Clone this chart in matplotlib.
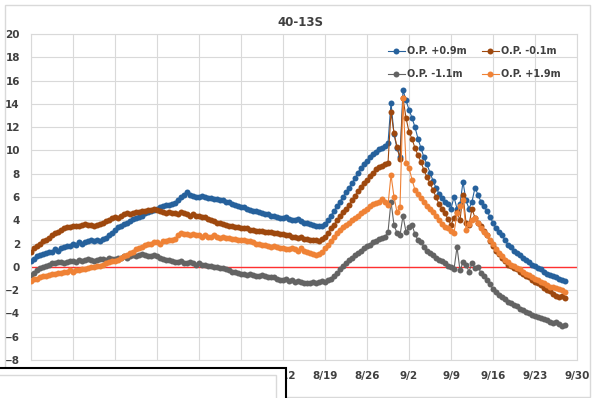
#
# 40-13S 水位の時系列グラフ
#
import matplotlib
matplotlib.use('Agg')
import matplotlib.pyplot as plt
from matplotlib.patches import Rectangle
import pandas as pd

title = '40-13S'
labels = ['O.P. +0.9m', 'O.P. -0.1m', 'O.P. -1.1m', 'O.P. +1.9m']
colors = ['#26619C', '#9E480E', '#636363', '#EF8236']

# 12時間ごと (7/1 0:00 から)
times = pd.date_range('2019-07-01', periods=179, freq='12h')

op_p09 = [
    0.5, 0.7, 0.9, 1.0, 1.1, 1.2, 1.3, 1.3, 1.5, 1.4,
    1.6, 1.7, 1.8, 1.8, 2.0, 1.9, 2.1, 2.0, 2.1, 2.2,
    2.3, 2.2, 2.3, 2.2, 2.4, 2.5, 2.7, 2.9, 3.2, 3.4,
    3.5, 3.7, 3.8, 3.9, 4.1, 4.2, 4.3, 4.4, 4.6, 4.7,
    4.8, 4.9, 5.0, 5.1, 5.2, 5.3, 5.3, 5.4, 5.5, 5.7,
    6.0, 6.2, 6.4, 6.2, 6.1, 6.0, 6.0, 6.1, 6.0, 5.9,
    5.9, 5.8, 5.8, 5.7, 5.7, 5.6, 5.6, 5.4, 5.3, 5.2,
    5.1, 5.1, 5.0, 4.9, 4.8, 4.8, 4.7, 4.6, 4.5, 4.5,
    4.4, 4.4, 4.3, 4.2, 4.2, 4.3, 4.1, 4.0, 4.0, 4.1,
    3.9, 3.8, 3.8, 3.7, 3.6, 3.5, 3.5, 3.5, 3.7, 4.0,
    4.4, 4.8, 5.2, 5.6, 6.0, 6.4, 6.8, 7.2, 7.6, 8.1,
    8.5, 8.8, 9.1, 9.4, 9.7, 9.9, 10.1, 10.2, 10.4, 10.6,
    14.1, 11.4, 10.2, 9.4, 15.2, 14.3, 13.5, 12.8, 12.0, 11.0,
    10.2, 9.4, 8.8, 8.1, 7.4, 6.8, 6.3, 5.9, 5.6, 5.4,
    5.0, 6.0, 5.0, 5.4, 7.3, 5.7, 5.0, 5.6, 6.8, 6.2,
    5.6, 5.2, 4.8, 4.3, 3.8, 3.3, 3.0, 2.7, 2.3, 1.9,
    1.7, 1.4, 1.2, 1.0, 0.8, 0.6, 0.4, 0.2, 0.1, -0.1,
    -0.2, -0.4, -0.6, -0.7, -0.8, -0.9, -1.0, -1.1, -1.2,
]
op_m01 = [
    1.3, 1.6, 1.8, 2.0, 2.2, 2.3, 2.5, 2.7, 2.9, 3.0,
    3.2, 3.3, 3.4, 3.4, 3.5, 3.5, 3.5, 3.6, 3.7, 3.6,
    3.6, 3.5, 3.6, 3.7, 3.8, 3.9, 4.0, 4.2, 4.3, 4.2,
    4.4, 4.5, 4.6, 4.5, 4.6, 4.7, 4.7, 4.8, 4.8, 4.9,
    4.9, 5.0, 4.9, 4.8, 4.7, 4.6, 4.7, 4.6, 4.6, 4.5,
    4.7, 4.6, 4.5, 4.4, 4.5, 4.4, 4.4, 4.3, 4.3, 4.1,
    4.0, 3.9, 3.8, 3.8, 3.7, 3.6, 3.5, 3.5, 3.4, 3.4,
    3.3, 3.3, 3.3, 3.2, 3.2, 3.1, 3.1, 3.1, 3.0, 3.0,
    3.0, 2.9, 2.9, 2.8, 2.8, 2.7, 2.7, 2.6, 2.6, 2.5,
    2.6, 2.4, 2.4, 2.3, 2.3, 2.3, 2.2, 2.4, 2.6, 2.9,
    3.3, 3.6, 4.0, 4.4, 4.7, 5.0, 5.3, 5.7, 6.1, 6.5,
    6.9, 7.2, 7.5, 7.8, 8.1, 8.4, 8.6, 8.7, 8.8, 8.9,
    13.3, 11.5, 10.3, 9.3, 14.5, 12.8, 11.6, 11.0, 10.2, 9.6,
    9.0, 8.3, 7.7, 7.2, 6.6, 6.0, 5.4, 5.0, 4.6, 4.1,
    3.6, 4.2, 4.7, 4.0, 6.2, 3.8, 3.6, 5.0, 4.2, 3.8,
    3.5, 3.1, 2.7, 2.2, 1.8, 1.4, 1.1, 0.8, 0.5, 0.2,
    0.1, -0.1, -0.2, -0.4, -0.6, -0.8, -0.9, -1.1, -1.3, -1.4,
    -1.6, -1.8, -2.0, -2.1, -2.3, -2.5, -2.6, -2.5, -2.7,
]
op_m11 = [
    -0.7, -0.5, -0.3, -0.1, 0.0, 0.1, 0.2, 0.3, 0.3, 0.4,
    0.4, 0.3, 0.4, 0.5, 0.5, 0.4, 0.6, 0.5, 0.6, 0.7,
    0.6, 0.5, 0.6, 0.7, 0.7, 0.6, 0.8, 0.7, 0.7, 0.8,
    0.8, 0.9, 0.8, 0.9, 1.0, 0.9, 1.0, 1.1, 1.0, 0.9,
    0.9, 1.0, 0.9, 0.8, 0.7, 0.6, 0.6, 0.5, 0.4, 0.4,
    0.5, 0.3, 0.3, 0.4, 0.3, 0.2, 0.3, 0.2, 0.2, 0.1,
    0.1, 0.0, 0.0, -0.1, -0.1, -0.2, -0.3, -0.4, -0.4, -0.5,
    -0.6, -0.6, -0.7, -0.6, -0.7, -0.8, -0.8, -0.7, -0.8, -0.9,
    -0.9, -0.9, -1.0, -1.1, -1.1, -1.0, -1.2, -1.1, -1.3, -1.2,
    -1.3, -1.4, -1.4, -1.4, -1.3, -1.4, -1.3, -1.2, -1.3, -1.1,
    -1.0, -0.8, -0.5, -0.2, 0.1, 0.3, 0.6, 0.8, 1.0, 1.2,
    1.4, 1.6, 1.8, 1.9, 2.1, 2.2, 2.4, 2.5, 2.6, 3.0,
    5.6, 3.6, 2.9, 2.7, 4.4, 3.0, 3.4, 3.6, 2.8, 2.3,
    2.1, 1.7, 1.4, 1.2, 1.0, 0.8, 0.6, 0.5, 0.3, 0.1,
    0.0, -0.2, 1.7, -0.3, 0.4, 0.2, -0.4, 0.3, -0.1, 0.0,
    -0.5, -0.8, -1.1, -1.5, -1.9, -2.2, -2.4, -2.6, -2.8, -3.0,
    -3.1, -3.3, -3.4, -3.6, -3.7, -3.9, -4.0, -4.1, -4.2, -4.3,
    -4.4, -4.5, -4.6, -4.7, -4.8, -4.7, -4.9, -5.1, -5.0,
]
op_p19 = [
    -1.2, -1.0, -1.0, -0.9, -0.8, -0.8, -0.7, -0.6, -0.6, -0.5,
    -0.5, -0.4, -0.4, -0.3, -0.4, -0.3, -0.3, -0.2, -0.2, -0.1,
    0.0, 0.0, 0.1, 0.1, 0.2, 0.3, 0.4, 0.5, 0.5, 0.6,
    0.8, 0.9, 1.0, 1.2, 1.3, 1.5, 1.6, 1.7, 1.9, 2.0,
    2.0, 2.1, 2.1, 2.0, 2.2, 2.2, 2.3, 2.3, 2.4, 2.7,
    2.9, 2.8, 2.8, 2.7, 2.8, 2.7, 2.7, 2.6, 2.7, 2.6,
    2.6, 2.7, 2.6, 2.5, 2.6, 2.5, 2.5, 2.4, 2.4, 2.3,
    2.3, 2.3, 2.2, 2.2, 2.1, 2.0, 2.0, 1.9, 1.9, 1.8,
    1.7, 1.8, 1.7, 1.6, 1.6, 1.5, 1.5, 1.6, 1.5, 1.4,
    1.6, 1.4, 1.3, 1.2, 1.1, 1.0, 1.1, 1.3, 1.6, 1.9,
    2.2, 2.6, 2.9, 3.2, 3.4, 3.6, 3.8, 4.0, 4.2, 4.4,
    4.6, 4.8, 5.0, 5.2, 5.4, 5.5, 5.6, 5.8, 5.6, 5.3,
    7.9, 6.0, 4.7, 5.1, 14.5, 8.9, 8.5, 7.5, 6.6, 6.3,
    5.9, 5.6, 5.2, 5.0, 4.7, 4.4, 4.0, 3.7, 3.4, 3.3,
    3.1, 2.9, 4.6, 5.2, 5.7, 3.2, 3.7, 4.0, 4.2, 3.8,
    3.3, 3.0, 2.7, 2.3, 2.0, 1.5, 1.2, 0.9, 0.6, 0.4,
    0.2, 0.1, -0.1, -0.2, -0.4, -0.6, -0.7, -0.9, -1.0, -1.1,
    -1.3, -1.4, -1.6, -1.7, -1.7, -1.8, -1.9, -2.0, -2.2,
]
series = [op_p09, op_m01, op_m11, op_p19]

xticks = pd.date_range('2019-07-01', '2019-09-30', freq='7D')
xticklabels = [f'{d.month}/{d.day}' for d in xticks]
yticks = list(range(-8, 21, 2))

txt = '#404040'
fig = plt.figure(figsize=(5.97, 3.98), dpi=100)
ax = fig.add_axes([31 / 597, 1 - 360 / 398, 546 / 597, 326 / 398])

ax.axhline(0, color='#FF3030', lw=1.0, zorder=2)
lines = []
for vals, lab, c in zip(series, labels, colors):
    ln, = ax.plot(times, vals, '-o', color=c, lw=0.8, ms=4.3,
                  mec=c, mew=0, label=lab, zorder=3)
    lines.append(ln)

ax.set_xlim(pd.Timestamp('2019-07-01'), pd.Timestamp('2019-09-30'))
ax.set_ylim(-8, 20)
ax.set_xticks(xticks)
ax.set_xticklabels(xticklabels)
ax.set_yticks(yticks)
ax.tick_params(length=0, labelsize=7.5, labelcolor=txt, pad=8)
for t in ax.get_xticklabels() + ax.get_yticklabels():
    t.set_fontweight('bold')
ax.grid(True, color='#D9D9D9', lw=0.8, zorder=0)
ax.set_axisbelow(True)
for s in ax.spines.values():
    s.set_color('#D9D9D9')
    s.set_linewidth(0.8)

fig.text(300 / 597, 1 - 23 / 398, title, ha='center', va='center',
         fontsize=8.5, fontweight='bold', color=txt)

# 凡例 (2列)
order = [0, 2, 1, 3]
leg = fig.legend([lines[i] for i in order], [labels[i] for i in order],
                 loc='upper left', bbox_to_anchor=(388 / 597, 1 - 46 / 398),
                 ncol=2, frameon=False, fontsize=7, handlelength=1.7,
                 handletextpad=0.25, columnspacing=1.6, labelspacing=1.35,
                 borderpad=0, borderaxespad=0)
for t in leg.get_texts():
    t.set_color(txt)
    t.set_fontweight('bold')

# 外枠
fig.patches.append(Rectangle((5 / 597, 1 / 398), 585 / 597, 392 / 398,
                             transform=fig.transFigure, fill=False,
                             ec='#D9D9D9', lw=1))
# 左下に重なっている白い枠
fig.patches.append(Rectangle((-0.01, -0.01), 286 / 597 + 0.01, 1 - 368 / 398 + 0.01,
                             transform=fig.transFigure, fc='white',
                             ec='black', lw=1.5, zorder=10))
fig.patches.append(Rectangle((-0.01, -0.01), 276 / 597 + 0.01, 1 - 375 / 398 + 0.01,
                             transform=fig.transFigure, fill=False,
                             ec='#D9D9D9', lw=1, zorder=11))

fig.savefig('out.png', dpi=100)
